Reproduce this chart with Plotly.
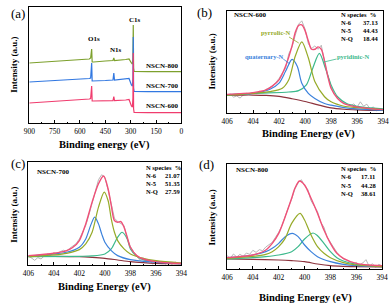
import plotly.graph_objects as go

W, H = 392, 307
FONT = "Liberation Serif"

# ---------------- Panel (a): survey spectra ----------------
a_x = [900, 800, 700, 600, 545, 537, 533, 531, 528, 520, 450, 405, 400, 396, 330, 310, 296, 290, 287, 285, 283, 280, 200, 100, 0]
a_800 = [60, 61, 62, 63, 64, 65, 70, 74, 61, 61, 62, 62.5, 65, 62.5, 63.5, 64, 60, 59, 64, 98, 55, 51.5, 51.3, 51.3, 51.3]
a_700 = [41, 42, 43, 43.5, 44.5, 45, 52, 60, 42, 42, 42.5, 43, 50, 43, 44, 44.5, 38, 37, 45, 86, 35, 31.5, 31.3, 31.3, 31.3]
a_600 = [20, 21, 22, 23, 24, 24.5, 30, 37, 22, 22, 22, 22.3, 26.5, 22.3, 23, 23.5, 17, 16, 25, 70, 14, 10.5, 10.3, 10.3, 10.3]
a_ticks = [900, 750, 600, 450, 300, 150, 0]

# ---------------- Raw grid for N1s panels ----------------
raw_x = [406 - 0.25 * i for i in range(49)]

# ---------------- Panel (b): NSCN-600 ----------------
b_raw = [52, 56, 47, 50, 44, 53, 58, 55, 61, 57, 64, 62, 70, 75, 79, 90, 102, 118, 132, 175, 195, 230, 262, 272, 248,
         205, 190, 198, 188, 200, 150, 112, 78, 55, 46, 36, 30, 25, 22, 27, 17, 33, 20, 26, 12, 18, 6, 14, 9]
b_bg_x = [406, 405, 404, 403, 402, 401, 400, 399, 398, 397, 396, 395, 394]
b_bg = [53, 53, 53, 52, 49, 42, 34, 24, 15, 11, 9, 8, 8]
b_q_x = [406, 404, 402.7, 402, 401.5, 401, 400.6, 400.25, 399.75, 399.25, 398.5, 398, 397, 396, 394]
b_q = [54, 58, 70, 88, 123, 158, 138, 88, 58, 43, 28, 23, 16, 12, 8]
b_p5_x = [406, 404, 402.7, 401.75, 401.25, 400.75, 400.25, 399.75, 399.25, 398.5, 398, 397, 396, 394]
b_p5 = [53, 58, 63, 73, 98, 168, 210, 163, 93, 48, 33, 20, 16, 10]
b_p6_x = [406, 404, 401.25, 400.5, 399.9, 399.4, 398.9, 398.4, 398, 397.5, 396.8, 396, 394]
b_p6 = [53, 58, 62, 66, 83, 133, 176, 128, 83, 48, 28, 20, 12]
b_env_x = [406, 404, 403, 402.5, 402, 401.5, 401, 400.75, 400.5, 400.25, 400, 399.75, 399.5, 399.25, 399, 398.75, 398.5, 398.25, 398, 397.5, 397, 396, 395, 394]
b_env = [55, 60, 68, 80, 98, 138, 198, 238, 258, 260, 243, 213, 188, 188, 195, 188, 153, 108, 73, 43, 28, 18, 13, 10]

# ---------------- Panel (c): NSCN-700 ----------------
c_raw = [28, 20, 14, 22, 18, 27, 33, 29, 37, 33, 40, 44, 42, 50, 56, 64, 78, 98, 118, 150, 185, 220, 255, 270, 262,
         225, 180, 140, 130, 125, 118, 80, 55, 40, 25, 14, 22, 8, 15, 2, 12, 5, 10, 3, 8, 2, 9, 4, 6]
c_bg_x = [406, 404, 402, 401, 400, 399, 398, 397, 396, 395, 394]
c_bg = [26, 26, 25, 23, 20, 15, 10, 7, 5, 4, 3]
c_q_x = [406, 404, 403, 402, 401.5, 401.1, 400.8, 400.5, 400.25, 400, 399.5, 399, 398, 396, 394]
c_q = [26, 33, 38, 53, 78, 120, 143, 123, 93, 68, 43, 28, 16, 8, 4]
c_p5_x = [406, 404, 403, 402, 401.5, 401, 400.5, 400.05, 399.75, 399.5, 399.25, 399, 398.5, 398, 397, 396, 394]
c_p5 = [24, 30, 35, 46, 63, 98, 173, 218, 193, 138, 98, 73, 48, 33, 20, 13, 6]
c_p6_x = [406, 402, 401, 400, 399.5, 399, 398.65, 398.25, 398, 397.5, 397, 396, 394]
c_p6 = [25, 26, 27, 33, 48, 83, 98, 78, 48, 26, 16, 10, 5]
c_env_x = [406, 404, 403, 402.5, 402, 401.5, 401, 400.5, 400.1, 399.75, 399.5, 399.25, 399, 398.75, 398.5, 398.25, 398, 397.5, 397, 396, 395, 394]
c_env = [28, 35, 43, 53, 73, 123, 188, 243, 266, 228, 178, 133, 128, 130, 113, 83, 53, 28, 18, 10, 6, 5]

# ---------------- Panel (d): NSCN-800 ----------------
d_raw = [40, 32, 45, 36, 44, 38, 48, 44, 56, 50, 58, 55, 66, 72, 80, 95, 110, 130, 160, 185, 210, 240, 258, 268, 250,
         238, 205, 190, 172, 140, 125, 95, 80, 62, 50, 38, 30, 26, 22, 15, 20, 12, 18, 28, 8, 16, 5, 14, 9]
d_bg_x = [406, 404, 402, 401, 400, 399, 398, 397, 396, 394]
d_bg = [30, 29, 27, 25, 22, 15, 10, 8, 7, 6]
d_q_x = [406, 404, 403, 402.5, 402, 401.5, 400.95, 400.5, 400, 399.5, 399, 398, 397, 396, 394]
d_q = [34, 42, 52, 62, 77, 97, 107, 97, 72, 52, 37, 22, 14, 10, 7]
d_p5_x = [406, 404, 403, 402.5, 402, 401.5, 401, 400.35, 400, 399.5, 399, 398.5, 398, 397, 396, 394]
d_p5 = [32, 38, 44, 52, 67, 92, 137, 167, 147, 102, 67, 47, 34, 19, 12, 7]
d_p6_x = [406, 404, 403, 402, 401, 400.5, 400, 399.35, 399, 398.5, 398, 397.5, 397, 396, 395, 394]
d_p6 = [30, 34, 37, 42, 52, 67, 90, 108, 100, 77, 52, 34, 24, 14, 10, 8]
d_env_x = [406, 404, 403, 402.5, 402, 401.5, 401, 400.75, 400.4, 400, 399.5, 399, 398.5, 398, 397.5, 397, 396, 395, 394]
d_env = [34, 42, 57, 77, 107, 157, 212, 242, 264, 252, 212, 167, 117, 77, 47, 32, 17, 12, 10]

n_ticks = [406, 404, 402, 400, 398, 396, 394]
tables = {
    "b": [("N-6", "37.13"), ("N-5", "44.43"), ("N-Q", "18.44")],
    "c": [("N-6", "21.07"), ("N-5", "51.35"), ("N-Q", "27.59")],
    "d": [("N-6", "17.11"), ("N-5", "44.28"), ("N-Q", "38.61")],
}

C_PINK = "rgb(240,80,120)"
C_BLUE = "rgb(60,130,220)"
C_OLIVE = "rgb(150,170,40)"
C_TEAL = "rgb(60,185,140)"
C_BG = "rgb(140,50,60)"
C_RAW = "rgb(175,175,175)"
A_GREEN = "rgb(125,160,45)"
A_BLUE = "rgb(50,120,225)"
A_PINK = "rgb(240,60,110)"


def px(x, y):
    return x / W, 1 - y / H


fig = go.Figure()

# panel boxes in pixels: (left, top, right, bottom)
boxes = {
    "a": (24, 7, 181, 123),
    "b": (228, 11, 389, 113),
    "c": (23, 162, 181, 265),
    "d": (228, 164, 388, 269),
}
axid = {"a": ("x", "y"), "b": ("x2", "y2"), "c": ("x3", "y3"), "d": ("x4", "y4")}
yr = {"a": [0, 116], "b": [0, 301], "c": [0, 308], "d": [0, 315]}

# panel (a)
for ys, col in [(a_800, A_GREEN), (a_700, A_BLUE), (a_600, A_PINK)]:
    fig.add_trace(go.Scatter(x=a_x, y=ys, mode="lines", line=dict(color=col, width=1.2),
                             xaxis="x", yaxis="y", showlegend=False))

spl = dict(shape="spline", smoothing=0.8)
for key, raw, bgx, bg, qx, q, p5x, p5, p6x, p6, ex, env in [
    ("b", b_raw, b_bg_x, b_bg, b_q_x, b_q, b_p5_x, b_p5, b_p6_x, b_p6, b_env_x, b_env),
    ("c", c_raw, c_bg_x, c_bg, c_q_x, c_q, c_p5_x, c_p5, c_p6_x, c_p6, c_env_x, c_env),
    ("d", d_raw, d_bg_x, d_bg, d_q_x, d_q, d_p5_x, d_p5, d_p6_x, d_p6, d_env_x, d_env),
]:
    xa, ya = axid[key]
    fig.add_trace(go.Scatter(x=raw_x, y=raw, mode="lines", line=dict(color=C_RAW, width=0.9),
                             xaxis=xa, yaxis=ya, showlegend=False))
    fig.add_trace(go.Scatter(x=bgx, y=bg, mode="lines", line=dict(color=C_BG, width=1.2, **spl),
                             xaxis=xa, yaxis=ya, showlegend=False))
    fig.add_trace(go.Scatter(x=p6x, y=p6, mode="lines", line=dict(color=C_TEAL, width=1.2, **spl),
                             xaxis=xa, yaxis=ya, showlegend=False))
    fig.add_trace(go.Scatter(x=qx, y=q, mode="lines", line=dict(color=C_BLUE, width=1.2, **spl),
                             xaxis=xa, yaxis=ya, showlegend=False))
    fig.add_trace(go.Scatter(x=p5x, y=p5, mode="lines", line=dict(color=C_OLIVE, width=1.2, **spl),
                             xaxis=xa, yaxis=ya, showlegend=False))
    fig.add_trace(go.Scatter(x=ex, y=env, mode="lines", line=dict(color=C_PINK, width=1.4, **spl),
                             xaxis=xa, yaxis=ya, showlegend=False))

tickfont = dict(family=FONT, size=7.5, color="black")
layout = dict(width=W, height=H, margin=dict(l=0, r=0, t=0, b=0),
              paper_bgcolor="white", plot_bgcolor="white", showlegend=False)

for i, key in enumerate(["a", "b", "c", "d"]):
    l, t, r, b = boxes[key]
    sfx = "" if i == 0 else str(i + 1)
    if key == "a":
        xr, tv = [900, 0], a_ticks
        dt = 75
    else:
        xr, tv = [406, 394], n_ticks
        dt = 1
    layout["xaxis" + sfx] = dict(
        domain=[l / W, r / W], range=xr, anchor="y" + sfx, tickvals=tv,
        ticks="inside", ticklen=3, tickwidth=1, tickcolor="black",
        minor=dict(dtick=dt, ticks="inside", ticklen=1.5, tickcolor="black", tickwidth=1),
        showline=True, mirror=True, linecolor="black", linewidth=1,
        showgrid=False, zeroline=False, tickfont=tickfont, ticklabelstandoff=1)
    layout["yaxis" + sfx] = dict(
        domain=[1 - b / H, 1 - t / H], range=yr[key], anchor="x" + sfx,
        showticklabels=False, ticks="", showline=True, mirror=True,
        linecolor="black", linewidth=1, showgrid=False, zeroline=False)

fig.update_layout(**layout)

ann = []


def text(x, y, s, size=7, color="black", bold=True, xanchor="center", angle=0):
    X, Y = px(x, y)
    ann.append(dict(x=X, y=Y, xref="paper", yref="paper", text=("<b>%s</b>" % s) if bold else s,
                    showarrow=False, xanchor=xanchor, yanchor="middle", textangle=angle,
                    font=dict(family=FONT, size=size, color=color)))


# panel letters
text(12, 13, "(a)", size=13, bold=False)
text(205, 12, "(b)", size=13, bold=False)
text(12, 163, "(c)", size=13, bold=False)
text(207, 164, "(d)", size=13, bold=False)

# axis titles
for x, y in [(8, 65), (212, 62), (8, 215), (212, 218)]:
    text(x, y, "Intensity (a.u.)", size=9, angle=-90)
text(102, 145, "Binding energy (eV)", size=10.5)
text(312, 134, "Binding Energy (eV)", size=10.5)
text(102, 287, "Binding Energy (eV)", size=10.5)
text(309, 298, "Binding Energy (eV)", size=10.5)

# panel (a) labels
text(91, 39, "O1s", size=7)
text(113, 50, "N1s", size=7)
text(133, 20, "C1s", size=7)
text(161, 66, "NSCN-800", size=7)
text(161, 86, "NSCN-700", size=7)
text(161, 106, "NSCN-600", size=7)

# sample names
text(233, 15, "NSCN-600", size=7, xanchor="left")
text(30, 172, "NSCN-700", size=7, xanchor="left")
text(235, 170, "NSCN-800", size=7, xanchor="left")

# tables
for key, (x0, y0, dy, xv) in {"b": (343, 14, 8, 366), "c": (142, 167, 8, 162), "d": (343, 168, 8.5, 364)}.items():
    text(x0, y0, "N species&nbsp;&nbsp;%", size=6.5, xanchor="left")
    for k, (lab, val) in enumerate(tables[key]):
        text(x0, y0 + dy * (k + 1), lab, size=6.5, xanchor="left")
        text(xv, y0 + dy * (k + 1), val, size=6.5, xanchor="left")

# component labels (b)
text(278, 32, "pyrrolic-N", size=6.5, color=C_OLIVE)
text(267, 57, "quaternary-N", size=6.5, color=C_BLUE)
text(358, 57, "pyridinic-N", size=6.5, color=C_TEAL)

fig.update_layout(annotations=ann)

shapes = []
for (x0, y0, x1, y1, col) in [(292, 37, 302, 43, C_OLIVE), (286, 59, 293, 64, C_BLUE), (328, 62, 341, 59, C_TEAL)]:
    X0, Y0 = px(x0, y0)
    X1, Y1 = px(x1, y1)
    shapes.append(dict(type="line", xref="paper", yref="paper", x0=X0, y0=Y0, x1=X1, y1=Y1,
                       line=dict(color=col, width=0.8)))
fig.update_layout(shapes=shapes)

fig.write_html("out.html", config={"displayModeBar": False},
               post_script="document.body.style.margin='0';document.body.style.overflow='hidden';")
